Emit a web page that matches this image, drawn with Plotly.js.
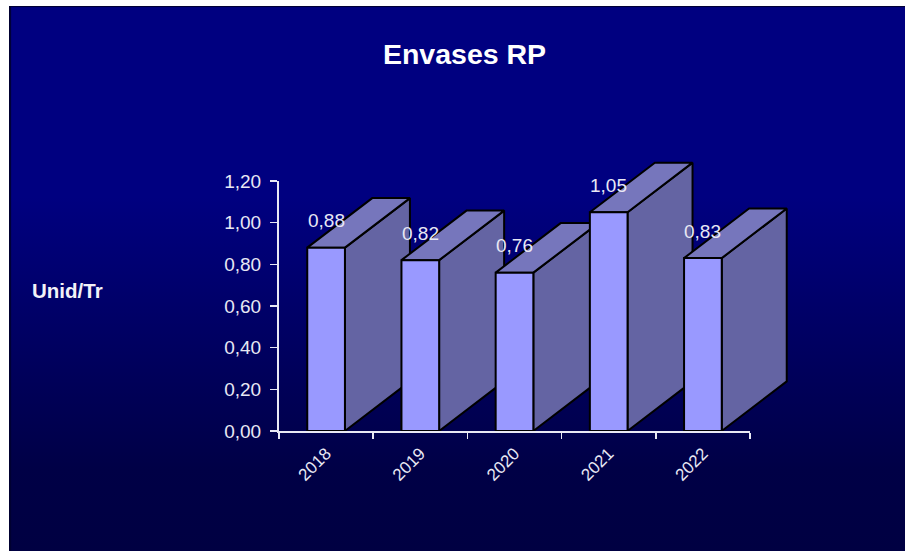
<!DOCTYPE html>
<html>
<head>
<meta charset="utf-8">
<script src="https://cdn.plot.ly/plotly-3.0.1.min.js"></script>
<style>
html,body{margin:0;padding:0;background:#fff;width:905px;height:551px;overflow:hidden}
#chart{position:absolute;left:9px;top:6px;width:896px;height:545px;
background:linear-gradient(to bottom,#000080 0%,#000080 35%,#000046 85%,#000042 100%);
box-shadow:inset 2px 1px 1px #000030}
</style>
</head>
<body>
<div id="chart"></div>
<script>
var years = ['2018','2019','2020','2021','2022'];
var values = [0.88,0.82,0.76,1.05,0.83];
var valueLabels = ['0,88','0,82','0,76','1,05','0,83'];
var title = 'Envases RP';
var yTitle = 'Unid/Tr';
var yTicks = [0,0.2,0.4,0.6,0.8,1,1.2];

var W=896,H=545,L=270,R=741,T=175,B=425;
var barW = 0.4, depthX = 0.69, depthY = 0.238;
var FRONT='#9999FF', SIDE='#6464A3', TOP='#7676BC', AXIS='#e8e8f4';
var FONT='Liberation Sans, Arial';
var xUnit=(R-L)/years.length, yUnit=(B-T)/1.2;

function face(xs,ys,color){
  return {type:'scatter',mode:'lines',x:xs,y:ys,fill:'toself',fillcolor:color,
    line:{color:'#000',width:2},hoverinfo:'skip',showlegend:false,xaxis:'x',yaxis:'y'};
}
var traces=[];
values.forEach(function(v,i){
  var r=i+barW/2;
  traces.push(face([r,r+depthX,r+depthX,r,r],[0,depthY,v+depthY,v,0],SIDE));
});
values.forEach(function(v,i){
  var l=i-barW/2,r=i+barW/2;
  traces.push(face([l,l+depthX,r+depthX,r,l],[v,v+depthY,v+depthY,v,v],TOP));
});
traces.push({type:'bar',x:years,y:values,width:barW,xaxis:'x2',yaxis:'y2',
  marker:{color:FRONT,line:{color:'#000',width:2}},hoverinfo:'x+y',showlegend:false});

var annotations=values.map(function(v,i){
  return {x:i,y:v,xref:'x2',yref:'y2',text:valueLabels[i],showarrow:false,
    yshift:27,font:{family:FONT,size:19,color:AXIS}};
});
annotations.push({xref:'paper',yref:'paper',x:58/W,y:261/H,xanchor:'center',yanchor:'middle',
  text:'<b>'+yTitle+'</b>',showarrow:false,font:{family:FONT,size:20.5,color:'#f2f2f8'}});

var layout={
  width:W,height:H,autosize:false,
  paper_bgcolor:'rgba(0,0,0,0)',plot_bgcolor:'rgba(0,0,0,0)',
  separators:', ',
  margin:{l:0,r:0,t:0,b:0,pad:0},
  title:{text:'<b>'+title+'</b>',x:455.5/W,xanchor:'center',xref:'paper',y:0.912,yanchor:'middle',
    font:{family:FONT,size:28.5,color:'#ffffff'}},
  // hidden full-canvas axes for the depth faces, same scale as the visible axes
  xaxis:{type:'linear',domain:[0,1],range:[-0.5-L/xUnit,-0.5+(W-L)/xUnit],visible:false,fixedrange:true},
  yaxis:{type:'linear',domain:[0,1],range:[-(H-B)/yUnit,B/yUnit],visible:false,fixedrange:true},
  xaxis2:{type:'category',domain:[L/W,R/W],anchor:'y2',range:[-0.5,4.5],tickson:'boundaries',
    ticks:'outside',ticklen:6,tickwidth:1.5,tickcolor:AXIS,showline:true,linecolor:AXIS,linewidth:2,
    showgrid:false,zeroline:false,fixedrange:true,tickangle:-45,ticklabelstandoff:4,automargin:false,
    tickfont:{family:FONT,size:17,color:AXIS}},
  yaxis2:{type:'linear',domain:[(H-B)/H,(H-T)/H],anchor:'x2',range:[0,1.2],tickvals:yTicks,tickformat:'.2f',
    ticks:'outside',ticklen:7,tickwidth:1.5,tickcolor:AXIS,showline:true,linecolor:AXIS,linewidth:2,
    showgrid:false,zeroline:false,fixedrange:true,ticklabelstandoff:5,automargin:false,
    tickfont:{family:FONT,size:19,color:AXIS}},
  annotations:annotations
};
Plotly.newPlot('chart',traces,layout,{displayModeBar:false,staticPlot:true});
</script>
</body>
</html>
